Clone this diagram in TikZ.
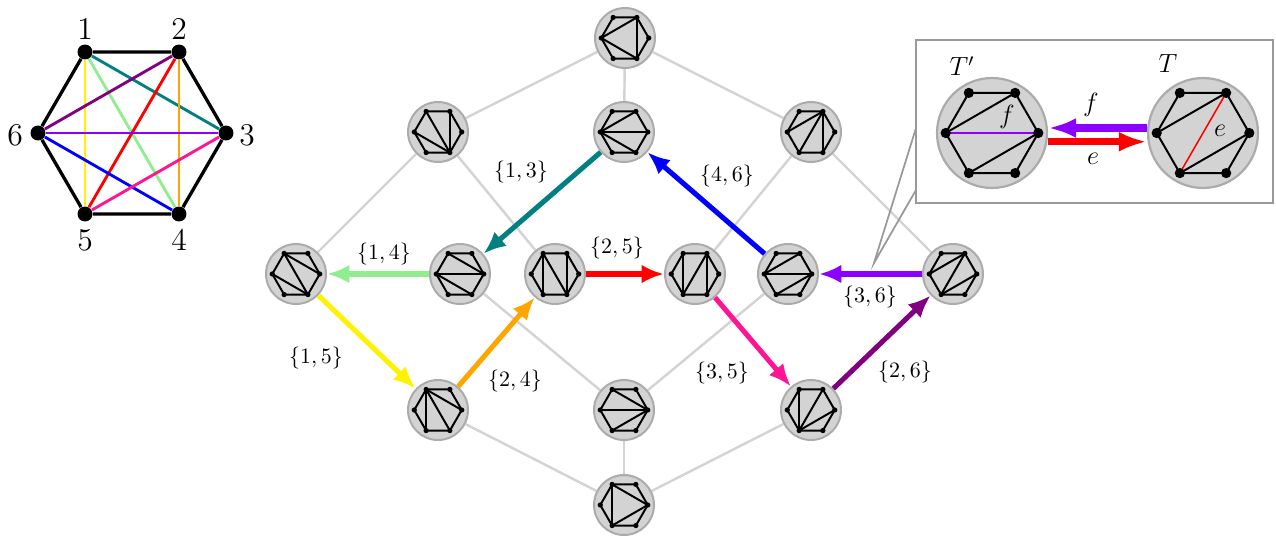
\documentclass[tikz,border=0pt]{standalone}
\usetikzlibrary{arrows.meta,backgrounds}
\definecolor{lgreen}{RGB}{144,238,144}
\definecolor{amber}{RGB}{255,165,0}
\definecolor{dpurple}{RGB}{128,0,128}
\definecolor{vio}{RGB}{140,0,255}
\definecolor{rose}{RGB}{255,20,147}
\definecolor{fgray}{RGB}{211,211,211}
\begin{document}
\begin{tikzpicture}[x=0.016cm, y=-0.016cm,
  tn/.style={circle, draw=black!33, fill=fgray, line width=0.9pt, minimum size=0.96cm, inner sep=0pt},
  bn/.style={circle, draw=black!33, fill=fgray, line width=1pt, minimum size=1.76cm, inner sep=0pt},
  vx/.style={circle, fill=black, minimum size=0.24cm, inner sep=0pt},
  hx/.style={black, line width=0.9pt},
  ch/.style={line width=1.3pt},
  fe/.style={fgray, line width=1.1pt},
  ar/.style={line width=2.3pt, -{Latex[length=0.36cm,width=0.3cm]}},
  br/.style={line width=3.2pt, -{Latex[length=0.45cm,width=0.32cm]}},
  nl/.style={font=\Large},
  il/.style={font=\large},
  pics/tri/.style={code={
    \foreach \k in {1,...,6} \coordinate (-\k) at ({180-60*\k}:0.38cm);
    \draw[hx] (-1)--(-2)--(-3)--(-4)--(-5)--(-6)--cycle;
    \foreach \a/\b in {#1} \draw[hx] (-\a)--(-\b);
    \foreach \k in {1,...,6} \fill (-\k) circle (0.042cm);
  }}]
\useasboundingbox (0,0) rectangle (1276,536);
% the hexagon and its diagonals
\node[vx] (h1) at (85,52) {};
\node[vx] (h2) at (179,52) {};
\node[vx] (h3) at (226,133) {};
\node[vx] (h4) at (179,214) {};
\node[vx] (h5) at (85,214) {};
\node[vx] (h6) at (38,133) {};
\node[nl] (n1) at (85,29) {1};
\node[nl] (n2) at (179,29) {2};
\node[nl] (n3) at (247,135) {3};
\node[nl] (n4) at (179,240) {4};
\node[nl] (n5) at (85,240) {5};
\node[nl] (n6) at (15,135) {6};
\draw[ch, yellow] (h1) -- (h5);
\draw[ch, lgreen] (h1) -- (h4);
\draw[ch, teal] (h1) -- (h3);
\draw[ch, amber] (h2) -- (h4);
\draw[ch, red] (h2) -- (h5);
\draw[ch, dpurple] (h2) -- (h6);
\draw[ch, vio] (h6) -- (h3);
\draw[ch, blue] (h6) -- (h4);
\draw[ch, rose] (h5) -- (h3);
\draw[line width=1.5pt] (h1) -- (h2) -- (h3) -- (h4) -- (h5) -- (h6) -- (h1);
% flip graph
\node[tn] (A) at (625,38) {}; \pic at (A) {tri={2/4,4/6,2/6}};
\node[tn] (B) at (438,132) {}; \pic at (B) {tri={1/4,2/4,4/6}};
\node[tn] (C) at (624,132) {}; \pic at (C) {tri={2/6,3/6,4/6}};
\node[tn] (D) at (811,132) {}; \pic at (D) {tri={2/4,2/5,2/6}};
\node[tn] (E) at (296,274) {}; \pic at (E) {tri={1/3,1/4,4/6}};
\node[tn] (F) at (460,274) {}; \pic at (F) {tri={1/3,3/6,4/6}};
\node[tn] (G) at (555,274) {}; \pic at (G) {tri={1/4,1/5,2/4}};
\node[tn] (H) at (695,274) {}; \pic at (H) {tri={1/5,2/4,2/5}};
\node[tn] (I) at (788,274) {}; \pic at (I) {tri={2/6,3/5,3/6}};
\node[tn] (J) at (953,274) {}; \pic at (J) {tri={2/5,2/6,3/5}};
\node[tn] (K) at (438,410) {}; \pic at (K) {tri={1/3,1/4,1/5}};
\node[tn] (L) at (624,410) {}; \pic at (L) {tri={1/3,3/5,3/6}};
\node[tn] (M) at (811,410) {}; \pic at (M) {tri={1/5,2/5,3/5}};
\node[tn] (N) at (624,505) {}; \pic at (N) {tri={1/3,3/5,1/5}};
\begin{scope}[on background layer]
\draw[fe] (A) -- (B);
\draw[fe] (A) -- (C);
\draw[fe] (A) -- (D);
\draw[fe] (B) -- (E);
\draw[fe] (B) -- (G);
\draw[fe] (D) -- (H);
\draw[fe] (D) -- (J);
\draw[fe] (F) -- (L);
\draw[fe] (I) -- (L);
\draw[fe] (L) -- (N);
\draw[fe] (K) -- (N);
\draw[fe] (M) -- (N);
\end{scope}
% flip path
\draw[ar, teal] (C) -- (F);
\draw[ar, lgreen] (F) -- (E);
\draw[ar, yellow] (E) -- (K);
\draw[ar, amber] (K) -- (G);
\draw[ar, red] (G) -- (H);
\draw[ar, rose] (H) -- (M);
\draw[ar, dpurple] (M) -- (J);
\draw[ar, vio] (J) -- (I);
\draw[ar, blue] (I) -- (C);
\node (l13) at (521,172) {$\{1,3\}$};
\node (l46) at (727,176) {$\{4,6\}$};
\node (l14) at (384,254) {$\{1,4\}$};
\node (l25) at (617,248) {$\{2,5\}$};
\node (l36) at (870,297) {$\{3,6\}$};
\node (l15) at (316,358) {$\{1,5\}$};
\node (l24) at (515,381) {$\{2,4\}$};
\node (l35) at (722,373) {$\{3,5\}$};
\node (l26) at (905,372) {$\{2,6\}$};
% zoomed flip
\coordinate (tip) at (874,263);
\coordinate (b1) at (916,128);
\coordinate (b2) at (916,190);
\draw[black!40, line width=0.8pt] (b1) -- (tip) -- (b2);
\node[draw=black!40, line width=1pt, fill=white, minimum width=5.71cm, minimum height=2.61cm, inner sep=0pt] (box) at (1094.5,121.5) {};
\node[bn] (Tp) at (992,133) {};
\draw[vio, line width=0.7pt] ([shift={(180:0.74cm)}]Tp.center) -- ([shift={(0:0.74cm)}]Tp.center);
\pic[scale=1.95] at (Tp) {tri={6/2,3/5}};
\node[bn] (T) at (1203,133) {};
\draw[red, line width=0.7pt] ([shift={(60:0.74cm)}]T.center) -- ([shift={(-120:0.74cm)}]T.center);
\pic[scale=1.95] at (T) {tri={6/2,5/3}};
\node[il] (Tpl) at (962,66) {$T'$};
\node[il] (Tl) at (1168,63) {$T$};
\node[il] (fin) at (1007,117) {$f$};
\node[il] (ein) at (1220,131) {$e$};
\draw[br, vio] ([yshift=0.08cm]T.west) -- ([yshift=0.08cm]Tp.east);
\draw[br, red] ([yshift=-0.14cm]Tp.east) -- ([yshift=-0.14cm]T.west);
\node[il] (fl) at (1091,105) {$f$};
\node[il] (el) at (1093,159) {$e$};
\end{tikzpicture}
\end{document}
